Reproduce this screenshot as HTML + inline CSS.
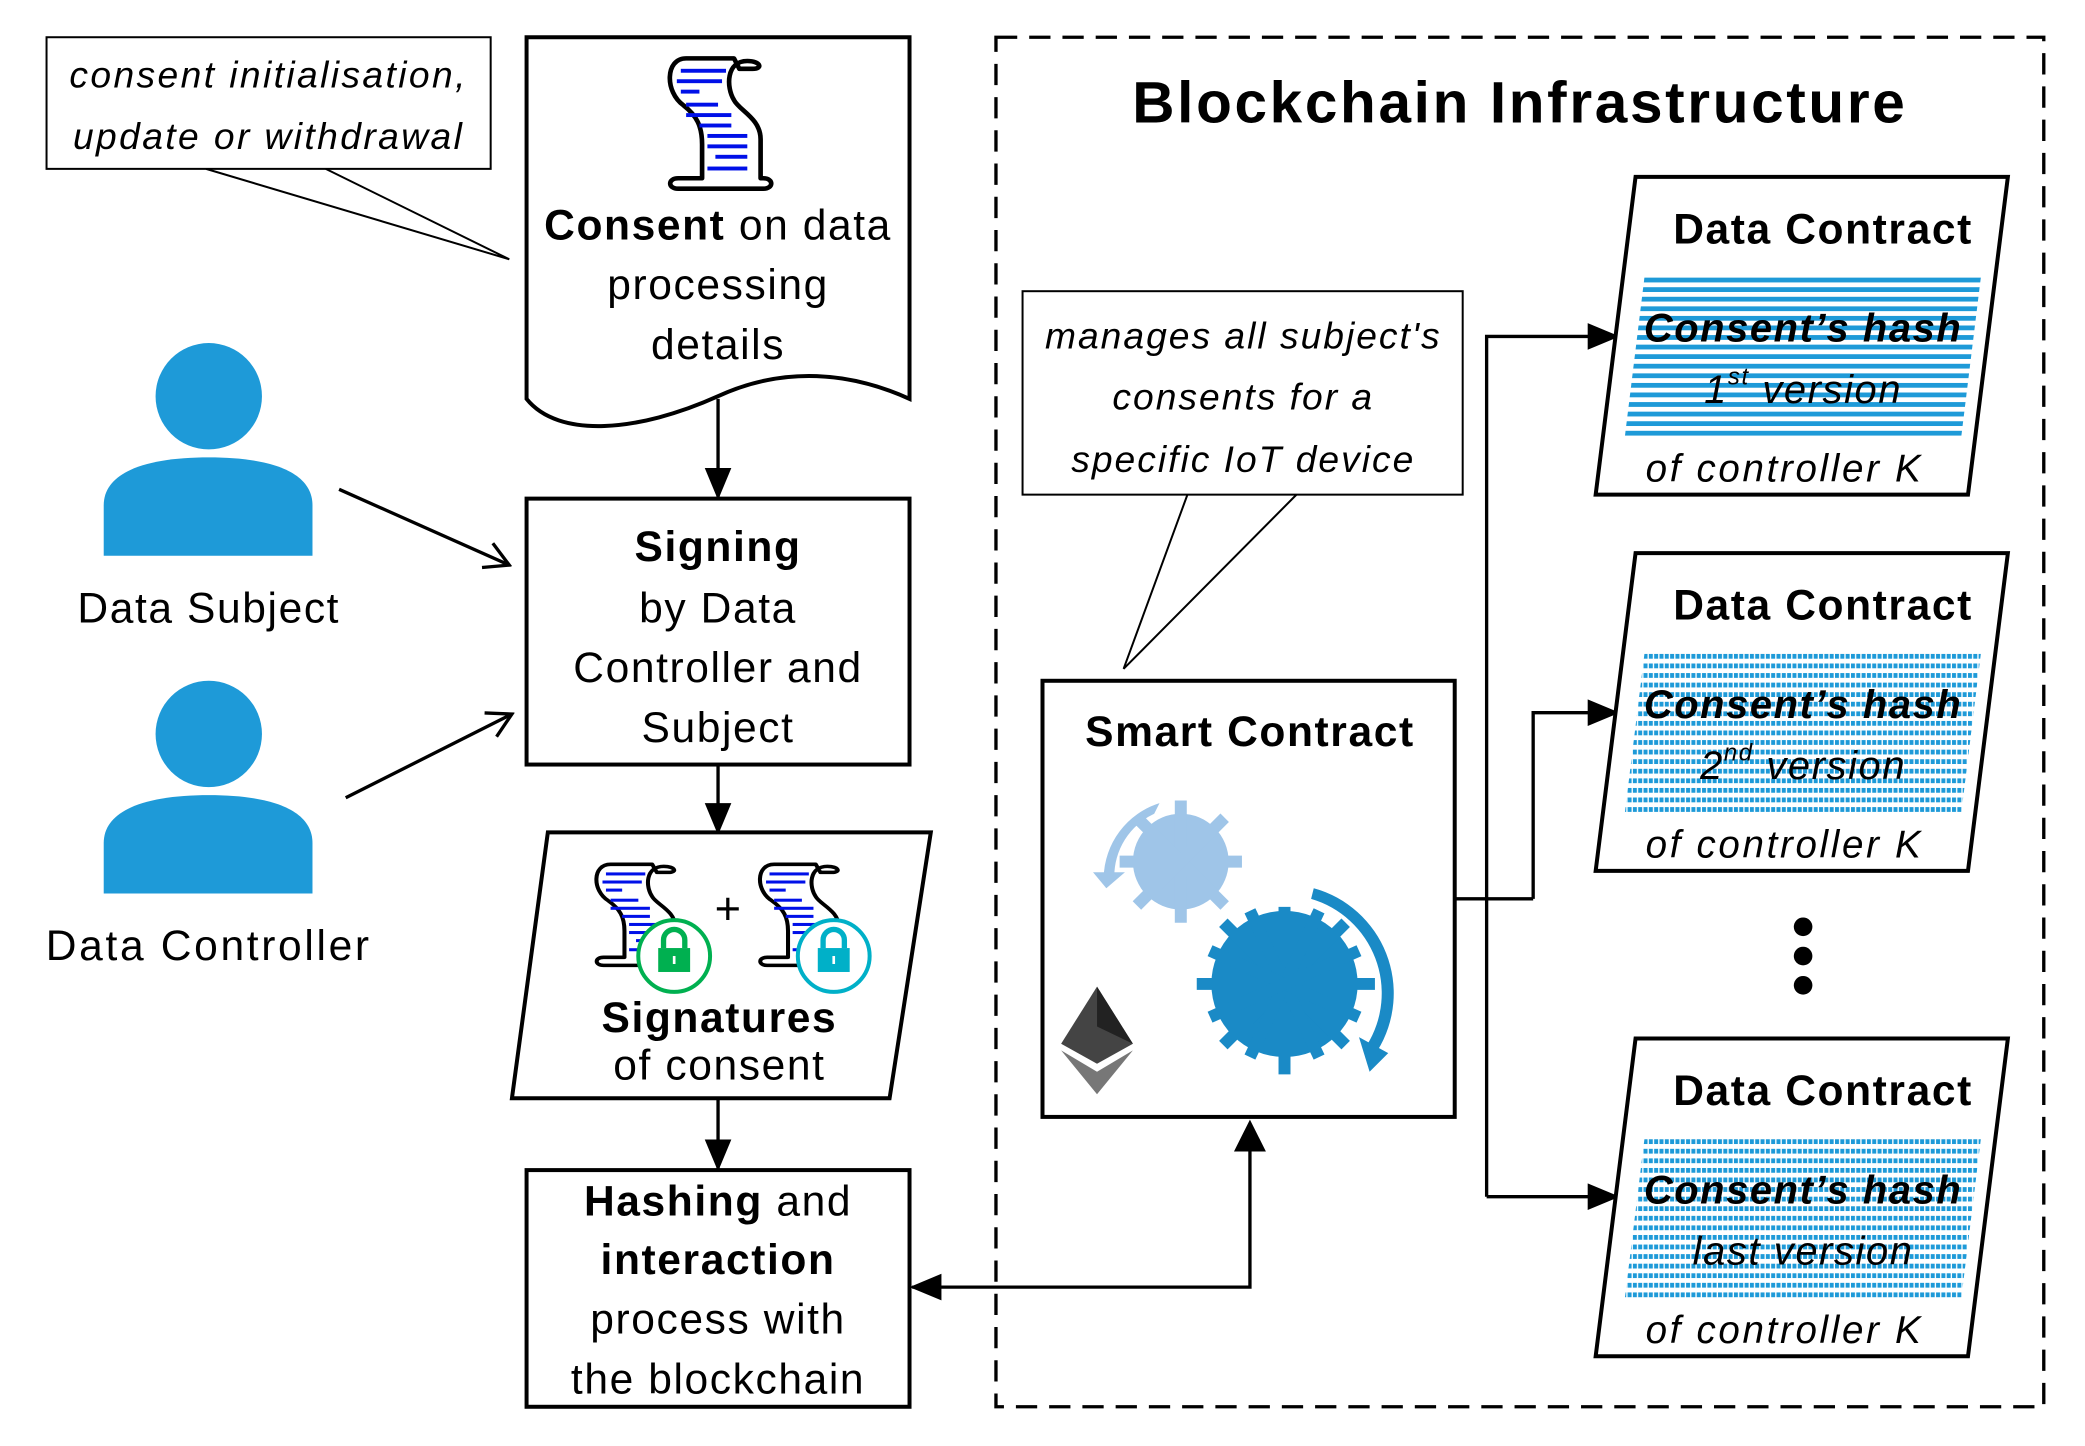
<!DOCTYPE html>
<html><head><meta charset="utf-8"><style>html,body{margin:0;padding:0;background:#fff}svg{display:block}
text{font-family:"Liberation Sans",sans-serif;fill:#000;letter-spacing:1.2px}</style></head><body>
<svg width="2085" height="1446" viewBox="0 0 1568 1087.5" preserveAspectRatio="none" xmlns="http://www.w3.org/2000/svg">
<defs>
<pattern id="st1" width="8" height="7.2" patternUnits="userSpaceOnUse"><rect x="0" y="0" width="8" height="3.6" fill="#1e9ad8"/></pattern>
<pattern id="st2" width="4" height="7.2" patternUnits="userSpaceOnUse"><rect x="0" y="0" width="3" height="3.6" fill="#1e9ad8"/></pattern>
<marker id="ahb" markerWidth="24" markerHeight="24" refX="22" refY="12" orient="auto" markerUnits="userSpaceOnUse" viewBox="0 0 24 24"><path d="M0,2 L24,12 L0,22 Z" fill="#000"/></marker>
<marker id="ao" markerWidth="24" markerHeight="24" refX="22" refY="12" orient="auto" markerUnits="userSpaceOnUse" viewBox="0 0 24 24"><path d="M4,2 L22,12 L4,22" fill="none" stroke="#000" stroke-width="2.5"/></marker>
<g id="scroll">
<path d="M14,4 C-2,4 -2,30 12,40 C22,48 26,56 26,70 L26,96 L8,96 C0,96 0,104 8,104 L72,104 C80,104 80,96 72,96 L70,96 L70,66 C70,50 54,44 50,36 C44,26 44,6 60,6 C70,6 72,12 64,12 L54,12 L50,4 Z" fill="#fff" stroke="#000" stroke-width="3.5" stroke-linejoin="round"/>
<g fill="#0010e8"><rect x="10" y="12" width="34" height="3"/><rect x="7" y="20" width="34" height="3"/><rect x="10" y="28" width="14" height="3"/><rect x="14" y="38" width="24" height="3"/><rect x="14" y="46" width="34" height="3"/><rect x="24" y="54" width="24" height="3"/><rect x="30" y="62" width="30" height="3"/><rect x="30" y="70" width="30" height="3"/><rect x="36" y="78" width="24" height="3"/><rect x="30" y="87" width="30" height="3"/></g>
</g>
</defs>

<rect x="749" y="28" width="788" height="1030" fill="none" stroke="#000" stroke-width="2.5" stroke-dasharray="16,9"/>
<text x="1143" y="92" font-size="44" font-weight="bold" text-anchor="middle" style="letter-spacing:2px">Blockchain Infrastructure</text>

<path d="M155,127 L383,195 L245,127" fill="#fff" stroke="#000" stroke-width="1.5"/>
<rect x="35" y="28" width="334" height="99" fill="#fff" stroke="#000" stroke-width="1.5"/>
<text x="202" y="66" font-size="28" font-style="italic" text-anchor="middle" style="letter-spacing:1.8px">consent initialisation,</text>
<text x="202" y="112" font-size="28" font-style="italic" text-anchor="middle" style="letter-spacing:1.8px">update or withdrawal</text>

<path d="M396,28 H684 V300 C640,280 590,275 540,298 C480,325 420,330 396,300 Z" fill="#fff" stroke="#000" stroke-width="3"/>
<use href="#scroll" transform="translate(502,40) scale(1,0.98)"/>
<text x="540" y="180" font-size="32" text-anchor="middle"><tspan font-weight="bold">Consent</tspan> on data</text>
<text x="540" y="225" font-size="32" text-anchor="middle">processing</text>
<text x="540" y="270" font-size="32" text-anchor="middle">details</text>
<line x1="540" y1="300" x2="540" y2="374" stroke="#000" stroke-width="2.5" marker-end="url(#ahb)"/>

<g fill="#1e9ad8">
<circle cx="157" cy="298" r="40"/>
<path d="M78,418 V380 C78,355 110,344 157,344 C204,344 235,355 235,380 V418 Z"/>
<circle cx="157" cy="552" r="40"/>
<path d="M78,672 V634 C78,609 110,598 157,598 C204,598 235,609 235,634 V672 Z"/>
</g>
<text x="157" y="468" font-size="32" text-anchor="middle">Data Subject</text>
<text x="157" y="722" font-size="32" text-anchor="middle" style="letter-spacing:2px">Data Controller</text>
<line x1="255" y1="368" x2="383" y2="425" stroke="#000" stroke-width="2.5" marker-end="url(#ao)"/>
<line x1="260" y1="600" x2="385" y2="537" stroke="#000" stroke-width="2.5" marker-end="url(#ao)"/>

<rect x="396" y="375" width="288" height="200" fill="#fff" stroke="#000" stroke-width="3"/>
<text x="540" y="422" font-size="32" font-weight="bold" text-anchor="middle">Signing</text>
<text x="540" y="468" font-size="32" text-anchor="middle">by Data</text>
<text x="540" y="513" font-size="32" text-anchor="middle">Controller and</text>
<text x="540" y="558" font-size="32" text-anchor="middle">Subject</text>
<line x1="540" y1="575" x2="540" y2="626" stroke="#000" stroke-width="2.5" marker-end="url(#ahb)"/>

<polygon points="412,626 700,626 669,826 385,826" fill="#fff" stroke="#000" stroke-width="3"/>
<use href="#scroll" transform="translate(447,647) scale(0.87,0.76)"/>
<use href="#scroll" transform="translate(570,647) scale(0.87,0.76)"/>
<text x="548" y="695" font-size="34" text-anchor="middle">+</text>
<circle cx="507" cy="719" r="27" fill="#fff" stroke="#00b050" stroke-width="3"/>
<path d="M499,713 V707 A8,8 0 0 1 515,707 V713" fill="none" stroke="#00b050" stroke-width="4"/>
<rect x="495" y="713" width="24" height="18" fill="#00b050"/><rect x="506" y="719" width="2" height="6" fill="#fff"/>
<circle cx="627" cy="719" r="27" fill="#fff" stroke="#00b0c8" stroke-width="3"/>
<path d="M619,713 V707 A8,8 0 0 1 635,707 V713" fill="none" stroke="#00b0c8" stroke-width="4"/>
<rect x="615" y="713" width="24" height="18" fill="#00b0c8"/><rect x="626" y="719" width="2" height="6" fill="#fff"/>
<text x="541" y="776" font-size="32" font-weight="bold" text-anchor="middle">Signatures</text>
<text x="541" y="812" font-size="32" text-anchor="middle">of consent</text>
<line x1="540" y1="826" x2="540" y2="879" stroke="#000" stroke-width="2.5" marker-end="url(#ahb)"/>

<rect x="396" y="880" width="288" height="178" fill="#fff" stroke="#000" stroke-width="3"/>
<text x="540" y="914" font-size="32" text-anchor="middle"><tspan font-weight="bold">Hashing</tspan> and</text>
<text x="540" y="958" font-size="32" font-weight="bold" text-anchor="middle">interaction</text>
<text x="540" y="1003" font-size="32" text-anchor="middle">process with</text>
<text x="540" y="1048" font-size="32" text-anchor="middle">the blockchain</text>
<polyline points="940,850 940,968 686,968" fill="none" stroke="#000" stroke-width="2.5" marker-end="url(#ahb)"/>
<path d="M940,842 l-12,24 h24 z" fill="#000"/>

<path d="M893,372 L845,503 L975,372" fill="#fff" stroke="#000" stroke-width="1.5"/>
<rect x="769" y="219" width="331" height="153" fill="#fff" stroke="#000" stroke-width="1.5"/>
<text x="935" y="262" font-size="28" font-style="italic" text-anchor="middle" style="letter-spacing:1.5px">manages all subject's</text>
<text x="935" y="308" font-size="28" font-style="italic" text-anchor="middle" style="letter-spacing:1.5px">consents for a</text>
<text x="935" y="355" font-size="28" font-style="italic" text-anchor="middle" style="letter-spacing:1.5px">specific IoT device</text>

<rect x="784" y="512" width="310" height="328" fill="#fff" stroke="#000" stroke-width="3"/>
<text x="940" y="561" font-size="32" font-weight="bold" text-anchor="middle">Smart Contract</text>
<g fill="#9fc5e8">
<circle cx="888" cy="648" r="36"/>
<g stroke="#9fc5e8" stroke-width="9">
<line x1="888" y1="602" x2="888" y2="694"/><line x1="842" y1="648" x2="934" y2="648"/>
<line x1="855" y1="615" x2="921" y2="681"/><line x1="921" y1="615" x2="855" y2="681"/></g>
<path d="M830,660 A60,60 0 0 1 872,604 L868,612 A52,52 0 0 0 838,660 Z"/>
<path d="M822,656 L846,656 L832,668 Z"/>
</g>
<g fill="#1a8ac6">
<circle cx="966" cy="740" r="55"/>
<g stroke="#1a8ac6" stroke-width="9">
<line x1="966" y1="682" x2="966" y2="808"/><line x1="900" y1="740" x2="1034" y2="740"/>
<line x1="920" y1="694" x2="1012" y2="786"/><line x1="1012" y1="694" x2="920" y2="786"/>
<line x1="940" y1="685" x2="992" y2="795"/><line x1="992" y1="685" x2="940" y2="795"/>
<line x1="910" y1="715" x2="1022" y2="765"/><line x1="1022" y1="715" x2="910" y2="765"/></g>
<path d="M988,668 A82,82 0 0 1 1036,790 L1028,786 A74,74 0 0 0 986,676 Z"/>
<path d="M1022,780 L1044,792 L1030,806 Z"/>
</g>
<polygon points="825,742 852,785 825,800 798,785" fill="#444"/>
<polygon points="825,742 852,785 825,772" fill="#222"/>
<polygon points="798,790 825,806 852,790 825,823" fill="#777"/>

<g stroke="#000" stroke-width="2.5" fill="none">
<line x1="1094" y1="676" x2="1153" y2="676"/>
<polyline points="1153,676 1153,536 1216,536" marker-end="url(#ahb)"/>
<polyline points="1118,900 1118,253 1216,253" marker-end="url(#ahb)"/>
<line x1="1118" y1="900" x2="1216" y2="900" marker-end="url(#ahb)"/>
</g>

<g>
<polygon points="1230,133 1510,133 1480,372 1200,372" fill="#fff" stroke="#000" stroke-width="3"/>
<polygon points="1237,206 1490,206 1475,328 1222,328" fill="url(#st1)"/>
<text x="1371" y="183" font-size="32" font-weight="bold" text-anchor="middle">Data Contract</text>
<text x="1356" y="257" font-size="30" font-weight="bold" font-style="italic" text-anchor="middle">Consent’s hash</text>
<text x="1356" y="303" font-size="30" font-style="italic" text-anchor="middle">1<tspan font-size="18" dy="-14">st</tspan><tspan dy="14"> version</tspan></text>
<text x="1342" y="362" font-size="29" font-style="italic" text-anchor="middle" style="letter-spacing:2px">of controller K</text>
</g>
<g transform="translate(0,283)">
<polygon points="1230,133 1510,133 1480,372 1200,372" fill="#fff" stroke="#000" stroke-width="3"/>
<polygon points="1237,206 1490,206 1475,328 1222,328" fill="url(#st2)"/>
<text x="1371" y="183" font-size="32" font-weight="bold" text-anchor="middle">Data Contract</text>
<text x="1356" y="257" font-size="30" font-weight="bold" font-style="italic" text-anchor="middle">Consent’s hash</text>
<text x="1356" y="303" font-size="30" font-style="italic" text-anchor="middle">2<tspan font-size="18" dy="-14">nd</tspan><tspan dy="14"> version</tspan></text>
<text x="1342" y="362" font-size="29" font-style="italic" text-anchor="middle" style="letter-spacing:2px">of controller K</text>
</g>
<g transform="translate(0,648)">
<polygon points="1230,133 1510,133 1480,372 1200,372" fill="#fff" stroke="#000" stroke-width="3"/>
<polygon points="1237,206 1490,206 1475,328 1222,328" fill="url(#st2)"/>
<text x="1371" y="183" font-size="32" font-weight="bold" text-anchor="middle">Data Contract</text>
<text x="1356" y="257" font-size="30" font-weight="bold" font-style="italic" text-anchor="middle">Consent’s hash</text>
<text x="1356" y="303" font-size="30" font-style="italic" text-anchor="middle">last version</text>
<text x="1342" y="362" font-size="29" font-style="italic" text-anchor="middle" style="letter-spacing:2px">of controller K</text>
</g>
<circle cx="1356" cy="697" r="7"/><circle cx="1356" cy="719" r="7"/><circle cx="1356" cy="741" r="7"/>
</svg>
</body></html>
